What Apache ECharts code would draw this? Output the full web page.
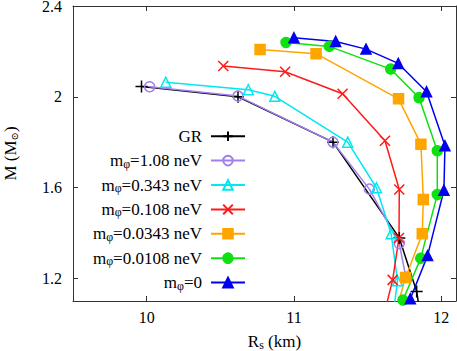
<!DOCTYPE html>
<html>
<head>
<meta charset="utf-8">
<script src="https://cdn.jsdelivr.net/npm/echarts@6/dist/echarts.min.js"></script>
<style>
  html, body { margin: 0; padding: 0; background: #fff; }
  #chart { width: 457px; height: 351px; }
</style>
</head>
<body>
<div id="chart"></div>
<script>
var xTicks = [10, 11, 12];
var yTicks = [1.2, 1.6, 2, 2.4];

var grR = [9.965, 10.62, 11.265, 11.715, 11.833, 11.855];
var grM = [2.045, 2.0, 1.8, 1.378, 1.142, 1.05];
var m108R = [10.02, 10.62, 11.265, 11.512, 11.715, 11.76];
var m108M = [2.044, 2.003, 1.8, 1.593, 1.353, 1.204];
var m0343R = [10.13, 10.69, 10.87, 11.365, 11.56, 11.66, 11.703, 11.675];
var m0343M = [2.064, 2.031, 2.002, 1.8, 1.599, 1.396, 1.189, 1.05];
var m0108R = [10.52, 10.94, 11.33, 11.618, 11.715, 11.713, 11.67, 11.615];
var m0108M = [2.136, 2.11, 2.013, 1.806, 1.591, 1.378, 1.193, 1.05];
var m00343R = [10.77, 11.15, 11.71, 11.862, 11.878, 11.871, 11.758, 11.69];
var m00343M = [2.208, 2.19, 1.991, 1.791, 1.547, 1.396, 1.204, 1.05];
var m00108R = [10.946, 11.24, 11.656, 11.849, 11.973, 11.973, 11.86, 11.74];
var m00108M = [2.239, 2.222, 2.122, 1.996, 1.762, 1.569, 1.288, 1.104];
var m0R = [11.0, 11.283, 11.489, 11.708, 11.9, 12.025, 12.018, 11.907, 11.79];
var m0M = [2.26, 2.244, 2.21, 2.147, 2.022, 1.784, 1.588, 1.3, 1.11];

var names = ['GR', 'mφ=1.08 neV', 'mφ=0.343 neV', 'mφ=0.108 neV', 'mφ=0.0343 neV', 'mφ=0.0108 neV', 'mφ=0'];

var font = 'Liberation Serif';
var plus = 'path://M0,5L10,5M5,0L5,10';
var cross = 'path://M0,0L10,10M10,0L0,10';

function pairs(xs, ys) {
  return xs.map(function(x, i) { return [x, ys[i]]; });
}

function mk(name, xs, ys, color, symbol, size, filled) {
  return {
    name: name,
    type: 'line',
    data: pairs(xs, ys),
    symbol: symbol,
    symbolSize: size,
    showAllSymbol: true,
    lineStyle: { color: color, width: 1.5 },
    itemStyle: { color: filled ? color : 'rgba(0,0,0,0)', borderColor: color, borderWidth: 1.5 },
    emphasis: { disabled: true }
  };
}

var chart = echarts.init(document.getElementById('chart'), null, { renderer: 'svg' });
chart.setOption({
  animation: false,
  textStyle: { fontFamily: font },
  grid: { left: 73, right: 1, top: 6, bottom: 50, outerBoundsMode: 'none' },
  legend: {
    orient: 'vertical',
    align: 'right',
    right: 211,
    top: 126,
    padding: 0,
    itemWidth: 34,
    itemHeight: 12,
    itemGap: 4,
    data: names,
    formatter: function(n) { return n.replace('mφ', 'm{s|φ}'); },
    textStyle: {
      fontFamily: font, fontSize: 17, color: '#000', lineHeight: 20.4,
      padding: [0, 4, 0, 0],
      rich: { s: { fontFamily: font, fontSize: 12, lineHeight: 14, padding: [6, 0, 0, 0] } }
    }
  },
  xAxis: [{
    type: 'value', min: 9.5, max: 12.1,
    name: 'R{s|s} (km)', nameLocation: 'middle', nameGap: 32,
    nameTextStyle: {
      fontFamily: font, fontSize: 17, color: '#000', padding: [0, 0, 0, 20],
      rich: { s: { fontFamily: font, fontSize: 12, lineHeight: 14, padding: [6, 0, 0, 0] } }
    },
    axisLine: { lineStyle: { color: '#333', width: 1 } },
    axisTick: { inside: true, length: 5, customValues: xTicks, lineStyle: { color: '#333' } },
    axisLabel: { customValues: xTicks, fontFamily: font, fontSize: 16, color: '#000', margin: 8 },
    splitLine: { show: false }
  }, {
    type: 'value', min: 9.5, max: 12.1, position: 'top',
    axisLine: { lineStyle: { color: '#333', width: 1 } },
    axisTick: { inside: true, length: 5, customValues: xTicks, lineStyle: { color: '#333' } },
    axisLabel: { show: false },
    splitLine: { show: false }
  }],
  yAxis: [{
    type: 'value', min: 1.1, max: 2.4,
    name: 'M (M{s|⊙})', nameLocation: 'middle', nameRotate: 90, nameGap: 54,
    nameTextStyle: {
      fontFamily: font, fontSize: 17, color: '#000',
      rich: { s: { fontFamily: 'DejaVu Serif', fontSize: 10, lineHeight: 12, padding: [7, 0, 0, 0] } }
    },
    axisLine: { show: true, lineStyle: { color: '#333', width: 1 } },
    axisTick: { show: true, inside: true, length: 5, customValues: yTicks, lineStyle: { color: '#333' } },
    axisLabel: { customValues: yTicks, fontFamily: font, fontSize: 16, color: '#000', margin: 11 },
    splitLine: { show: false }
  }, {
    type: 'value', min: 1.1, max: 2.4, position: 'right',
    axisLine: { show: true, lineStyle: { color: '#333', width: 1 } },
    axisTick: { show: true, inside: true, length: 5, customValues: yTicks, lineStyle: { color: '#333' } },
    axisLabel: { show: false },
    splitLine: { show: false }
  }],
  series: [
    mk(names[0], grR, grM, '#000000', plus, 12, false),
    mk(names[1], m108R, m108M, '#a17ff0', 'circle', 10, false),
    mk(names[2], m0343R, m0343M, '#00e8f0', 'triangle', 10, false),
    mk(names[3], m0108R, m0108M, '#ff1a1a', cross, 10, false),
    mk(names[4], m00343R, m00343M, '#ffa500', 'rect', 10, true),
    mk(names[5], m00108R, m00108M, '#10e010', 'circle', 10, true),
    mk(names[6], m0R, m0M, '#0000f0', 'triangle', 10, true)
  ]
});
window.addEventListener('resize', function() { chart.resize(); });
</script>
</body>
</html>
